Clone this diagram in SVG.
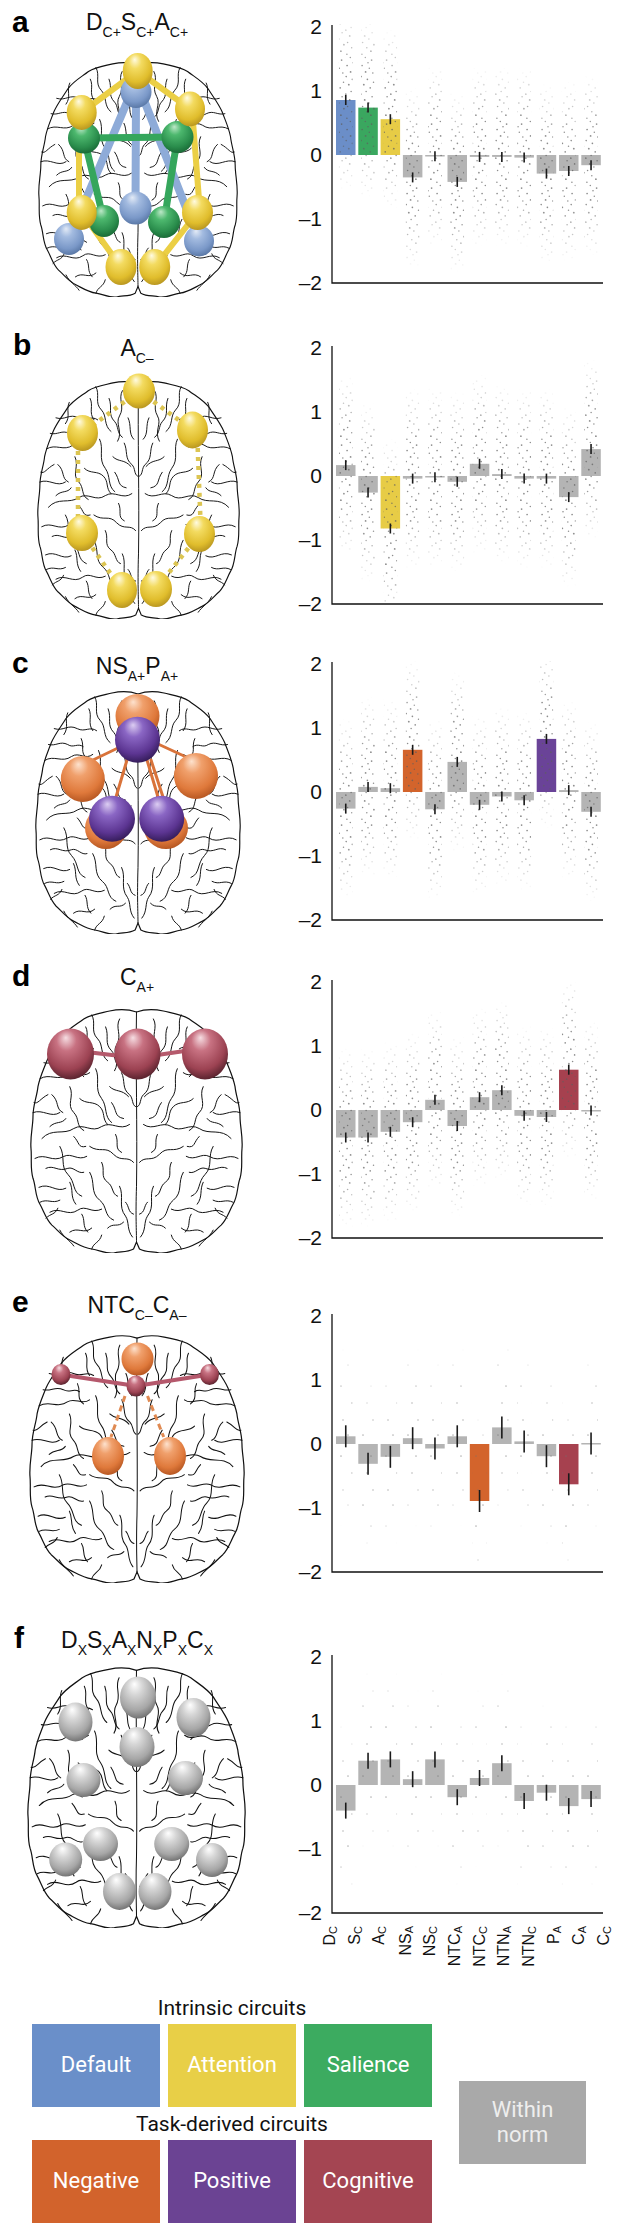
<svg xmlns="http://www.w3.org/2000/svg" width="629" height="2231" viewBox="0 0 629 2231">
<defs>
<style>
.plab{font-family:"Liberation Sans",Arial,sans-serif;font-weight:bold;font-size:30px;fill:#000}
.ttl{font-family:"Liberation Sans",Arial,sans-serif;font-size:23px;fill:#111;text-anchor:middle}
.tick{font-family:"Liberation Sans",Arial,sans-serif;font-size:21px;fill:#111;text-anchor:end}
.ax{fill:none;stroke:#111;stroke-width:1.3}
.g{fill:#b4b4b4}
.cb{fill:#6b8ec8}.cg{fill:#3aa75f}.cy{fill:#e7cc46}.co{fill:#d3642c}.cp{fill:#6a4398}.cr{fill:#a6414f}
.er{stroke:#1a1a1a;stroke-width:1.6}
.dc{fill:url(#dp)}
.dq{fill:url(#dq)}
.xl{font-family:"Liberation Sans",Arial,sans-serif;font-size:16px;fill:#111;text-anchor:end}
.leg{font-family:Roboto,"Liberation Sans",Arial,sans-serif;font-size:21px;fill:#111;text-anchor:middle}
.bx{font-family:Roboto,"Liberation Sans",Arial,sans-serif;font-size:22px;fill:#fff;text-anchor:middle}
.bo{fill:none;stroke:#111;stroke-width:1;stroke-linecap:round}
.sy{fill:url(#gy)}.sb{fill:url(#gb)}.sg{fill:url(#gg)}.so{fill:url(#go)}.sp{fill:url(#gp)}.sr{fill:url(#gr)}.sx{fill:url(#gx)}
</style>
<radialGradient id="gy" cx=".45" cy=".35" r=".7" fx=".4" fy=".18"><stop offset="0" stop-color="#fffbe2"/><stop offset=".3" stop-color="#f3db60"/><stop offset=".72" stop-color="#e0bd2c"/><stop offset="1" stop-color="#b08e1e"/></radialGradient>
<radialGradient id="gb" cx=".45" cy=".35" r=".7" fx=".4" fy=".18"><stop offset="0" stop-color="#e2eaf6"/><stop offset=".3" stop-color="#a3bbe0"/><stop offset=".72" stop-color="#7a98c8"/><stop offset="1" stop-color="#52709e"/></radialGradient>
<radialGradient id="gg" cx=".45" cy=".35" r=".7" fx=".4" fy=".18"><stop offset="0" stop-color="#bde8c8"/><stop offset=".3" stop-color="#4db86e"/><stop offset=".72" stop-color="#2a8d4c"/><stop offset="1" stop-color="#166332"/></radialGradient>
<radialGradient id="go" cx=".45" cy=".35" r=".7" fx=".4" fy=".18"><stop offset="0" stop-color="#fde2ce"/><stop offset=".3" stop-color="#f0a06c"/><stop offset=".72" stop-color="#df793b"/><stop offset="1" stop-color="#ae501d"/></radialGradient>
<radialGradient id="gp" cx=".45" cy=".35" r=".7" fx=".4" fy=".18"><stop offset="0" stop-color="#dccdf2"/><stop offset=".3" stop-color="#8a66c4"/><stop offset=".72" stop-color="#5c3592"/><stop offset="1" stop-color="#2c174e"/></radialGradient>
<radialGradient id="gr" cx=".45" cy=".35" r=".7" fx=".4" fy=".18"><stop offset="0" stop-color="#f6dde2"/><stop offset=".3" stop-color="#c87282"/><stop offset=".72" stop-color="#9c4252"/><stop offset="1" stop-color="#4a1c26"/></radialGradient>
<radialGradient id="gx" cx=".45" cy=".35" r=".7" fx=".4" fy=".18"><stop offset="0" stop-color="#ffffff"/><stop offset=".3" stop-color="#d6d6d6"/><stop offset=".72" stop-color="#a6a6a6"/><stop offset="1" stop-color="#686868"/></radialGradient>
<pattern id="dp" width="15" height="64" patternUnits="userSpaceOnUse"><g fill="#5e5e5e"><circle cx="2.1" cy="1.5" r=".85"/><circle cx="9.3" cy="4.2" r=".75"/><circle cx="5.6" cy="7.9" r=".9"/><circle cx="12.8" cy="9.1" r=".75"/><circle cx="1.2" cy="12.6" r=".8"/><circle cx="7.4" cy="15.3" r=".85"/><circle cx="13.5" cy="18.2" r=".75"/><circle cx="3.8" cy="20.7" r=".9"/><circle cx="10.2" cy="23.9" r=".8"/><circle cx="6.1" cy="27.4" r=".75"/><circle cx="0.8" cy="30.2" r=".85"/><circle cx="12.1" cy="32.8" r=".8"/><circle cx="4.7" cy="35.9" r=".9"/><circle cx="8.9" cy="39.1" r=".75"/><circle cx="2.6" cy="42.5" r=".8"/><circle cx="13.9" cy="44.7" r=".85"/><circle cx="6.8" cy="47.8" r=".75"/><circle cx="10.9" cy="51.2" r=".9"/><circle cx="1.9" cy="54.3" r=".8"/><circle cx="5.3" cy="57.6" r=".75"/><circle cx="11.6" cy="60.1" r=".85"/><circle cx="8" cy="62.8" r=".8"/></g></pattern>
<pattern id="dq" width="15" height="70" patternUnits="userSpaceOnUse"><g fill="#707070"><circle cx="3" cy="6" r=".85"/><circle cx="11" cy="27" r=".85"/><circle cx="7" cy="44" r=".8"/><circle cx="13" cy="61" r=".8"/></g></pattern>
<linearGradient id="fg" x1="0" y1="0" x2="0" y2="1"><stop offset="0" stop-color="#000"/><stop offset=".3" stop-color="#fff"/><stop offset=".7" stop-color="#fff"/><stop offset="1" stop-color="#000"/></linearGradient>
<mask id="fade" maskContentUnits="objectBoundingBox"><rect width="1" height="1" fill="url(#fg)"/></mask>
<clipPath id="cc"><rect x="333" y="24" width="272" height="258"/></clipPath>
<symbol id="brain" viewBox="0 0 214 247" preserveAspectRatio="none">
<path fill="#fff" stroke="#111" stroke-width="1.2" d="M107,236 L104,243 C97,247 90,245 84,247 C76,248 70,244 62,243 C54,242 48,238 40,234 C32,230 28,224 22,219 C16,213 14,205 10,198 C5,190 6,180 3,172 C0,162 2,152 1,142 C0,130 3,120 3,110 C3,98 7,90 8,80 C10,70 14,62 17,54 C21,45 27,38 32,30 C38,22 46,18 54,12 C62,7 72,6 80,4 C90,2 98,2 107,5 C116,2 124,2 134,4 C142,6 152,7 160,12 C168,18 176,22 182,30 C187,38 193,45 197,54 C200,62 204,70 206,80 C207,90 211,98 211,110 C211,120 214,130 213,142 C212,152 214,162 211,172 C208,180 209,190 204,198 C200,205 198,213 192,219 C186,224 182,230 174,234 C166,238 160,242 152,243 C144,244 138,248 130,247 C124,245 117,247 110,243 Z"/>
<path class="bo" d="M107,5 C106,60 108,120 107,180 C106,210 107,225 107,236"/>
<g id="lh" class="bo">
<path d="M20,40 C30,43 34,35 44,40 C52,44 57,37 64,42"/>
<path d="M62,8 C67,16 60,24 68,32 C74,38 70,48 78,54"/>
<path d="M90,12 C85,21 93,28 87,38 C82,46 91,54 85,64"/>
<path d="M34,24 C30,32 36,38 30,46"/>
<path d="M10,72 C20,66 28,75 38,68 C46,63 52,72 60,66"/>
<path d="M40,80 C45,90 36,98 44,106 C50,112 46,120 54,124"/>
<path d="M66,62 C71,72 64,82 72,92 C78,100 74,110 82,116"/>
<path d="M3,106 C13,102 21,112 30,106"/>
<path d="M12,132 C22,121 34,129 44,122 C54,116 62,127 72,120 C82,114 90,125 100,118"/>
<path d="M5,152 C16,146 22,157 34,150 C42,146 48,155 57,150"/>
<path d="M30,140 C36,150 30,160 38,168 C46,176 42,186 52,190"/>
<path d="M60,140 C70,147 76,139 84,148 C92,156 98,149 104,156"/>
<path d="M9,181 C20,176 26,187 36,182"/>
<path d="M60,166 C66,176 60,186 70,194 C78,200 74,210 84,214"/>
<path d="M20,206 C30,200 38,211 48,204 C56,198 62,208 72,203"/>
<path d="M90,180 C95,190 88,200 96,210 C100,216 97,224 103,231"/>
<path d="M40,226 C48,220 54,229 62,222"/>
<path d="M80,80 C86,86 92,82 99,90"/>
<path d="M22,88 C30,95 25,102 33,106"/>
<path d="M16,212 C21,207 25,209 28,202"/>
<path d="M62,243 C64,236 70,237 72,229"/>
<path d="M82,96 C88,104 84,110 94,112"/>
<path d="M48,50 C52,58 46,64 54,70"/>
<path d="M14,56 C22,58 26,52 34,56 C40,60 44,54 50,58"/>
<path d="M56,20 C60,28 54,34 60,42"/>
<path d="M76,20 C80,30 74,36 82,44 C86,48 84,56 90,60"/>
<path d="M96,40 C100,48 96,56 102,62"/>
<path d="M18,88 C10,92 8,98 4,96"/>
<path d="M50,92 C56,98 64,94 70,100 C76,106 72,112 78,118"/>
<path d="M92,66 C96,74 92,82 100,88 C104,92 102,98 106,100"/>
<path d="M20,120 C26,114 32,118 36,112"/>
<path d="M44,130 C50,136 48,142 56,140"/>
<path d="M86,128 C90,136 84,142 92,146"/>
<path d="M16,162 C24,158 28,166 38,162 C44,160 48,168 54,166"/>
<path d="M72,156 C76,164 70,170 78,176 C84,180 82,188 88,190"/>
<path d="M40,176 C44,184 40,190 46,198"/>
<path d="M10,196 C18,192 22,198 30,194"/>
<path d="M78,222 C84,216 88,222 94,216"/>
<path d="M30,224 C34,232 40,234 44,240"/>
<path d="M96,196 C100,200 98,206 104,208"/>
<path d="M52,208 C56,214 52,220 58,226"/>
</g>
<use href="#lh" transform="translate(214,0) scale(-1,1)"/>
</symbol>
</defs>
<rect width="629" height="2231" fill="#fff"/>

<!-- PANEL A -->
<g id="panel-a">
<text class="plab" x="12" y="32">a</text>
<text class="ttl" x="137" y="30">D<tspan font-size="14" dy="7">C+</tspan><tspan dy="-7">S</tspan><tspan font-size="14" dy="7">C+</tspan><tspan dy="-7">A</tspan><tspan font-size="14" dy="7">C+</tspan></text>
<use href="#brain" x="38" y="60" width="200" height="237"/>
<g id="a-connectors" stroke-linecap="round">
<g stroke="#8eabd8" stroke-width="8"><line x1="130" y1="95" x2="69" y2="239"/><line x1="136" y1="95" x2="135.5" y2="208"/><line x1="142" y1="95" x2="199" y2="241"/></g>
<g stroke="#ebcf45" stroke-width="6"><line x1="137.7" y1="71" x2="81.7" y2="112.5"/><line x1="137.7" y1="71" x2="190" y2="109"/><line x1="79" y1="112.5" x2="79" y2="212.5"/><line x1="192" y1="109" x2="200" y2="212.5"/><line x1="81.7" y1="212.5" x2="121" y2="267"/><line x1="197.5" y1="212.5" x2="154.7" y2="267"/></g>
<g stroke="#35a65c" stroke-width="7"><line x1="84" y1="138" x2="177.5" y2="137"/><line x1="84" y1="138" x2="104" y2="221"/><line x1="177.5" y1="137" x2="164" y2="222"/></g>
</g>
<g id="a-nodes">
<g id="a-d1"><ellipse class="sb" cx="136" cy="92" rx="15.5" ry="16"/></g>
<g id="a-d2"><ellipse class="sb" cx="135.5" cy="208" rx="16" ry="16.5"/></g>
<g id="a-d3"><ellipse class="sb" cx="69" cy="239" rx="15" ry="16"/></g>
<g id="a-d4"><ellipse class="sb" cx="199" cy="241" rx="15" ry="15.5"/></g>
<g id="a-s1"><ellipse class="sg" cx="84" cy="138" rx="16" ry="15.5"/></g>
<g id="a-s2"><ellipse class="sg" cx="177.5" cy="137" rx="16" ry="16"/></g>
<g id="a-s3"><ellipse class="sg" cx="104" cy="221" rx="15" ry="16"/></g>
<g id="a-s4"><ellipse class="sg" cx="164" cy="222" rx="16" ry="16"/></g>
<g id="a-a1"><ellipse class="sy" cx="137.7" cy="71" rx="15" ry="18"/></g>
<g id="a-a2"><ellipse class="sy" cx="81.7" cy="112.5" rx="15" ry="17.5"/></g>
<g id="a-a3"><ellipse class="sy" cx="190" cy="109" rx="15" ry="17.5"/></g>
<g id="a-a4"><ellipse class="sy" cx="81.7" cy="212.5" rx="15" ry="17.5"/></g>
<g id="a-a5"><ellipse class="sy" cx="197.5" cy="212.5" rx="15.5" ry="17.5"/></g>
<g id="a-a6"><ellipse class="sy" cx="121" cy="267" rx="15.5" ry="18"/></g>
<g id="a-a7"><ellipse class="sy" cx="154.7" cy="267" rx="15.5" ry="18"/></g>
</g>
<g id="a-chart">
<rect class="cb" x="336" y="100" width="19.5" height="55"/>
<rect class="cg" x="358.3" y="107.6" width="19.5" height="47.4"/>
<rect class="cy" x="380.6" y="119.2" width="19.5" height="35.8"/>
<rect class="g" x="402.9" y="155" width="19.5" height="22.4"/>
<rect class="g" x="425.2" y="155" width="19.5" height="1.5"/>
<rect class="g" x="447.5" y="155" width="19.5" height="26.9"/>
<rect class="g" x="469.8" y="155" width="19.5" height="1.9"/>
<rect class="g" x="492.1" y="155" width="19.5" height="1.9"/>
<rect class="g" x="514.4" y="155" width="19.5" height="2.6"/>
<rect class="g" x="536.7" y="155" width="19.5" height="18.6"/>
<rect class="g" x="559" y="155" width="19.5" height="16"/>
<rect class="g" x="581.3" y="155" width="19.5" height="10.2"/>
<g clip-path="url(#cc)" opacity=".7">
<rect class="dc" mask="url(#fade)" x="338.75" y="10" width="14" height="180"/>
<rect class="dc" mask="url(#fade)" x="361.05" y="17.6" width="14" height="180"/>
<rect class="dc" mask="url(#fade)" x="383.35" y="29.2" width="14" height="180"/>
<rect class="dc" mask="url(#fade)" x="405.65" y="87.4" width="14" height="180"/>
<rect class="dc" mask="url(#fade)" x="427.95" y="66.3" width="14" height="180"/>
<rect class="dc" mask="url(#fade)" x="450.25" y="91.9" width="14" height="180"/>
<rect class="dc" mask="url(#fade)" x="472.55" y="66.9" width="14" height="180"/>
<rect class="dc" mask="url(#fade)" x="494.85" y="66.9" width="14" height="180"/>
<rect class="dc" mask="url(#fade)" x="517.15" y="67.6" width="14" height="180"/>
<rect class="dc" mask="url(#fade)" x="539.45" y="83.6" width="14" height="180"/>
<rect class="dc" mask="url(#fade)" x="561.75" y="81" width="14" height="180"/>
<rect class="dc" mask="url(#fade)" x="584.05" y="75.2" width="14" height="180"/>
</g>
<g class="er">
<line x1="345.75" y1="95" x2="345.75" y2="105"/><line x1="368.05" y1="102.6" x2="368.05" y2="112.6"/><line x1="390.35" y1="114.2" x2="390.35" y2="124.2"/><line x1="412.65" y1="172.4" x2="412.65" y2="182.4"/><line x1="434.95" y1="151.3" x2="434.95" y2="161.3"/><line x1="457.25" y1="176.9" x2="457.25" y2="186.9"/><line x1="479.55" y1="151.9" x2="479.55" y2="161.9"/><line x1="501.85" y1="151.9" x2="501.85" y2="161.9"/><line x1="524.15" y1="152.6" x2="524.15" y2="162.6"/><line x1="546.45" y1="168.6" x2="546.45" y2="178.6"/><line x1="568.75" y1="166" x2="568.75" y2="176"/><line x1="591.05" y1="160.2" x2="591.05" y2="170.2"/>
</g>
<path class="ax" d="M332,25 V283 H603"/>
<text class="tick" x="322" y="34">2</text><text class="tick" x="322" y="98">1</text><text class="tick" x="322" y="162">0</text><text class="tick" x="322" y="226">–1</text><text class="tick" x="322" y="290">–2</text>
</g>
</g>

<!-- PANEL B -->
<g id="panel-b">
<text class="plab" x="13" y="355">b</text>
<text class="ttl" x="137" y="356">A<tspan font-size="14" dy="7">C–</tspan></text>
<use href="#brain" x="37" y="379" width="203" height="240"/>
<g id="b-connectors" stroke="#dcc552" stroke-width="4.5" stroke-dasharray="4 5">
<line x1="139" y1="391" x2="82.5" y2="433"/><line x1="139" y1="391" x2="192.5" y2="430"/><line x1="78" y1="433" x2="78" y2="533"/><line x1="197" y1="430" x2="201" y2="534"/><line x1="82" y1="533" x2="122" y2="590"/><line x1="199.5" y1="534" x2="156" y2="589"/>
</g>
<g id="b-nodes">
<g id="b-a1"><ellipse class="sy" cx="139" cy="391" rx="16" ry="17.5"/></g>
<g id="b-a2"><ellipse class="sy" cx="82.5" cy="433" rx="15.5" ry="18"/></g>
<g id="b-a3"><ellipse class="sy" cx="192.5" cy="430" rx="15.5" ry="18.5"/></g>
<g id="b-a4"><ellipse class="sy" cx="82" cy="533" rx="16" ry="18"/></g>
<g id="b-a5"><ellipse class="sy" cx="199.5" cy="534" rx="15.5" ry="18"/></g>
<g id="b-a6"><ellipse class="sy" cx="122" cy="590" rx="15" ry="18"/></g>
<g id="b-a7"><ellipse class="sy" cx="156" cy="589" rx="16" ry="18"/></g>
</g>
<g id="b-chart" transform="translate(0,321)">
<rect class="g" x="336" y="144.1" width="19.5" height="10.9"/>
<rect class="g" x="358.3" y="155" width="19.5" height="16.6"/>
<rect class="cy" x="380.6" y="155" width="19.5" height="52.5"/>
<rect class="g" x="402.9" y="155" width="19.5" height="2.6"/>
<rect class="g" x="425.2" y="155" width="19.5" height="1.5"/>
<rect class="g" x="447.5" y="155" width="19.5" height="5.8"/>
<rect class="g" x="469.8" y="142.8" width="19.5" height="12.2"/>
<rect class="g" x="492.1" y="153.1" width="19.5" height="1.9"/>
<rect class="g" x="514.4" y="155" width="19.5" height="2.6"/>
<rect class="g" x="536.7" y="155" width="19.5" height="2.6"/>
<rect class="g" x="559" y="155" width="19.5" height="21.1"/>
<rect class="g" x="581.3" y="128.1" width="19.5" height="26.9"/>
<g clip-path="url(#cc)" opacity=".7">
<rect class="dc" mask="url(#fade)" x="338.75" y="54.1" width="14" height="180"/>
<rect class="dc" mask="url(#fade)" x="361.05" y="81.6" width="14" height="180"/>
<rect class="dc" mask="url(#fade)" x="383.35" y="117.5" width="14" height="180"/>
<rect class="dc" mask="url(#fade)" x="405.65" y="67.6" width="14" height="180"/>
<rect class="dc" mask="url(#fade)" x="427.95" y="66.3" width="14" height="180"/>
<rect class="dc" mask="url(#fade)" x="450.25" y="70.8" width="14" height="180"/>
<rect class="dc" mask="url(#fade)" x="472.55" y="52.8" width="14" height="180"/>
<rect class="dc" mask="url(#fade)" x="494.85" y="63.1" width="14" height="180"/>
<rect class="dc" mask="url(#fade)" x="517.15" y="67.6" width="14" height="180"/>
<rect class="dc" mask="url(#fade)" x="539.45" y="67.6" width="14" height="180"/>
<rect class="dc" mask="url(#fade)" x="561.75" y="86.1" width="14" height="180"/>
<rect class="dc" mask="url(#fade)" x="584.05" y="38.1" width="14" height="180"/>
</g>
<g class="er">
<line x1="345.75" y1="139.1" x2="345.75" y2="149.1"/><line x1="368.05" y1="166.6" x2="368.05" y2="176.6"/><line x1="390.35" y1="202.5" x2="390.35" y2="212.5"/><line x1="412.65" y1="152.6" x2="412.65" y2="162.6"/><line x1="434.95" y1="151.3" x2="434.95" y2="161.3"/><line x1="457.25" y1="155.8" x2="457.25" y2="165.8"/><line x1="479.55" y1="137.8" x2="479.55" y2="147.8"/><line x1="501.85" y1="148.1" x2="501.85" y2="158.1"/><line x1="524.15" y1="152.6" x2="524.15" y2="162.6"/><line x1="546.45" y1="152.6" x2="546.45" y2="162.6"/><line x1="568.75" y1="171.1" x2="568.75" y2="181.1"/><line x1="591.05" y1="123.1" x2="591.05" y2="133.1"/>
</g>
<path class="ax" d="M332,25 V283 H603"/>
<text class="tick" x="322" y="34">2</text><text class="tick" x="322" y="98">1</text><text class="tick" x="322" y="162">0</text><text class="tick" x="322" y="226">–1</text><text class="tick" x="322" y="290">–2</text>
</g>
</g>

<!-- PANEL C -->
<g id="panel-c">
<text class="plab" x="12" y="673">c</text>
<text class="ttl" x="137" y="674">NS<tspan font-size="14" dy="7">A+</tspan><tspan dy="-7">P</tspan><tspan font-size="14" dy="7">A+</tspan></text>
<use href="#brain" x="35" y="689" width="206" height="245"/>
<g id="c-connectors" stroke="#d9733a" stroke-width="3" stroke-linecap="round">
<line x1="120" y1="747" x2="93" y2="760"/><line x1="158" y1="744" x2="184" y2="756"/><line x1="127" y1="760" x2="116" y2="797"/><line x1="147" y1="760" x2="158" y2="797"/><line x1="151" y1="760" x2="163" y2="797"/>
</g>
<g id="c-nodes">
<g id="c-n1"><ellipse class="so" cx="137.5" cy="716" rx="22" ry="22"/></g>
<g id="c-n2"><ellipse class="so" cx="82.8" cy="779" rx="22" ry="23"/></g>
<g id="c-n3"><ellipse class="so" cx="196" cy="776" rx="22" ry="23"/></g>
<g id="c-n4"><ellipse class="so" cx="106" cy="828" rx="21" ry="21"/></g>
<g id="c-n5"><ellipse class="so" cx="166" cy="828" rx="22" ry="21"/></g>
<g id="c-p1"><ellipse class="sp" cx="137.5" cy="739.7" rx="22.5" ry="23"/></g>
<g id="c-p2"><ellipse class="sp" cx="112" cy="818.8" rx="23" ry="23"/></g>
<g id="c-p3"><ellipse class="sp" cx="161.7" cy="818.8" rx="22.5" ry="23"/></g>
</g>
<g id="c-chart" transform="translate(0,637)">
<rect class="g" x="336" y="155" width="19.5" height="16.6"/>
<rect class="g" x="358.3" y="149.9" width="19.5" height="5.1"/>
<rect class="g" x="380.6" y="151.2" width="19.5" height="3.8"/>
<rect class="co" x="402.9" y="112.8" width="19.5" height="42.2"/>
<rect class="g" x="425.2" y="155" width="19.5" height="17.3"/>
<rect class="g" x="447.5" y="124.9" width="19.5" height="30.1"/>
<rect class="g" x="469.8" y="155" width="19.5" height="12.8"/>
<rect class="g" x="492.1" y="155" width="19.5" height="4.5"/>
<rect class="g" x="514.4" y="155" width="19.5" height="8.3"/>
<rect class="cp" x="536.7" y="101.9" width="19.5" height="53.1"/>
<rect class="g" x="559" y="153.1" width="19.5" height="1.9"/>
<rect class="g" x="581.3" y="155" width="19.5" height="19.8"/>
<g clip-path="url(#cc)" opacity=".7">
<rect class="dc" mask="url(#fade)" x="338.75" y="81.6" width="14" height="180"/>
<rect class="dc" mask="url(#fade)" x="361.05" y="59.9" width="14" height="180"/>
<rect class="dc" mask="url(#fade)" x="383.35" y="61.2" width="14" height="180"/>
<rect class="dc" mask="url(#fade)" x="405.65" y="22.8" width="14" height="180"/>
<rect class="dc" mask="url(#fade)" x="427.95" y="82.3" width="14" height="180"/>
<rect class="dc" mask="url(#fade)" x="450.25" y="34.9" width="14" height="180"/>
<rect class="dc" mask="url(#fade)" x="472.55" y="77.8" width="14" height="180"/>
<rect class="dc" mask="url(#fade)" x="494.85" y="69.5" width="14" height="180"/>
<rect class="dc" mask="url(#fade)" x="517.15" y="73.3" width="14" height="180"/>
<rect class="dc" mask="url(#fade)" x="539.45" y="11.9" width="14" height="180"/>
<rect class="dc" mask="url(#fade)" x="561.75" y="63.1" width="14" height="180"/>
<rect class="dc" mask="url(#fade)" x="584.05" y="84.8" width="14" height="180"/>
</g>
<g class="er">
<line x1="345.75" y1="166.6" x2="345.75" y2="176.6"/><line x1="368.05" y1="144.9" x2="368.05" y2="154.9"/><line x1="390.35" y1="146.2" x2="390.35" y2="156.2"/><line x1="412.65" y1="107.8" x2="412.65" y2="117.8"/><line x1="434.95" y1="167.3" x2="434.95" y2="177.3"/><line x1="457.25" y1="119.9" x2="457.25" y2="129.9"/><line x1="479.55" y1="162.8" x2="479.55" y2="172.8"/><line x1="501.85" y1="154.5" x2="501.85" y2="164.5"/><line x1="524.15" y1="158.3" x2="524.15" y2="168.3"/><line x1="546.45" y1="96.9" x2="546.45" y2="106.9"/><line x1="568.75" y1="148.1" x2="568.75" y2="158.1"/><line x1="591.05" y1="169.8" x2="591.05" y2="179.8"/>
</g>
<path class="ax" d="M332,25 V283 H603"/>
<text class="tick" x="322" y="34">2</text><text class="tick" x="322" y="98">1</text><text class="tick" x="322" y="162">0</text><text class="tick" x="322" y="226">–1</text><text class="tick" x="322" y="290">–2</text>
</g>
</g>

<!-- PANEL D -->
<g id="panel-d">
<text class="plab" x="12" y="986">d</text>
<text class="ttl" x="137" y="985">C<tspan font-size="14" dy="7">A+</tspan></text>
<use href="#brain" x="30" y="1007" width="213" height="246"/>
<g id="d-connectors" stroke="#b55a6c" stroke-width="4" stroke-linecap="round">
<line x1="70" y1="1050" x2="137" y2="1058"/><line x1="137" y1="1058" x2="205" y2="1048"/>
</g>
<g id="d-nodes">
<g id="d-c1"><ellipse class="sr" cx="70.5" cy="1054" rx="23.5" ry="25.5"/></g>
<g id="d-c2"><ellipse class="sr" cx="137.5" cy="1054" rx="23" ry="25.5"/></g>
<g id="d-c3"><ellipse class="sr" cx="205" cy="1054" rx="23" ry="25.5"/></g>
</g>
<g id="d-chart" transform="translate(0,955)">
<rect class="g" x="336" y="155" width="19.5" height="27.5"/>
<rect class="g" x="358.3" y="155" width="19.5" height="27.5"/>
<rect class="g" x="380.6" y="155" width="19.5" height="21.8"/>
<rect class="g" x="402.9" y="155" width="19.5" height="12.2"/>
<rect class="g" x="425.2" y="144.8" width="19.5" height="10.2"/>
<rect class="g" x="447.5" y="155" width="19.5" height="16"/>
<rect class="g" x="469.8" y="142.2" width="19.5" height="12.8"/>
<rect class="g" x="492.1" y="135.2" width="19.5" height="19.8"/>
<rect class="g" x="514.4" y="155" width="19.5" height="5.8"/>
<rect class="g" x="536.7" y="155" width="19.5" height="7"/>
<rect class="cr" x="559" y="114.7" width="19.5" height="40.3"/>
<rect class="g" x="581.3" y="155" width="19.5" height="1.5"/>
<g clip-path="url(#cc)" opacity=".7">
<rect class="dc" mask="url(#fade)" x="338.75" y="92.5" width="14" height="180"/>
<rect class="dc" mask="url(#fade)" x="361.05" y="92.5" width="14" height="180"/>
<rect class="dc" mask="url(#fade)" x="383.35" y="86.8" width="14" height="180"/>
<rect class="dc" mask="url(#fade)" x="405.65" y="77.2" width="14" height="180"/>
<rect class="dc" mask="url(#fade)" x="427.95" y="54.8" width="14" height="180"/>
<rect class="dc" mask="url(#fade)" x="450.25" y="81" width="14" height="180"/>
<rect class="dc" mask="url(#fade)" x="472.55" y="52.2" width="14" height="180"/>
<rect class="dc" mask="url(#fade)" x="494.85" y="45.2" width="14" height="180"/>
<rect class="dc" mask="url(#fade)" x="517.15" y="70.8" width="14" height="180"/>
<rect class="dc" mask="url(#fade)" x="539.45" y="72" width="14" height="180"/>
<rect class="dc" mask="url(#fade)" x="561.75" y="24.7" width="14" height="180"/>
<rect class="dc" mask="url(#fade)" x="584.05" y="65.6" width="14" height="180"/>
</g>
<g class="er">
<line x1="345.75" y1="177.5" x2="345.75" y2="187.5"/><line x1="368.05" y1="177.5" x2="368.05" y2="187.5"/><line x1="390.35" y1="171.8" x2="390.35" y2="181.8"/><line x1="412.65" y1="162.2" x2="412.65" y2="172.2"/><line x1="434.95" y1="139.8" x2="434.95" y2="149.8"/><line x1="457.25" y1="166" x2="457.25" y2="176"/><line x1="479.55" y1="137.2" x2="479.55" y2="147.2"/><line x1="501.85" y1="130.2" x2="501.85" y2="140.2"/><line x1="524.15" y1="155.8" x2="524.15" y2="165.8"/><line x1="546.45" y1="157" x2="546.45" y2="167"/><line x1="568.75" y1="109.7" x2="568.75" y2="119.7"/><line x1="591.05" y1="150.6" x2="591.05" y2="160.6"/>
</g>
<path class="ax" d="M332,25 V283 H603"/>
<text class="tick" x="322" y="34">2</text><text class="tick" x="322" y="98">1</text><text class="tick" x="322" y="162">0</text><text class="tick" x="322" y="226">–1</text><text class="tick" x="322" y="290">–2</text>
</g>
</g>

<!-- PANEL E -->
<g id="panel-e">
<text class="plab" x="12" y="1312">e</text>
<text class="ttl" x="137" y="1313">NTC<tspan font-size="14" dy="7">C–</tspan><tspan dy="-7">C</tspan><tspan font-size="14" dy="7">A–</tspan></text>
<use href="#brain" x="29" y="1333" width="216" height="250"/>
<g id="e-connectors" stroke-linecap="butt">
<g stroke="#e08a52" stroke-width="3" stroke-dasharray="6 4"><line x1="125" y1="1396" x2="111" y2="1437"/><line x1="147.5" y1="1396" x2="163.7" y2="1437"/></g>
<g stroke="#b5586c" stroke-width="4"><line x1="61" y1="1374.5" x2="136" y2="1386"/><line x1="136" y1="1386" x2="209.5" y2="1374.5"/></g>
</g>
<g id="e-nodes">
<g id="e-n1"><ellipse class="so" cx="137.5" cy="1359" rx="16" ry="16.5"/></g>
<g id="e-n2"><ellipse class="so" cx="108" cy="1456" rx="16" ry="19"/></g>
<g id="e-n3"><ellipse class="so" cx="170" cy="1456" rx="16" ry="19"/></g>
<g id="e-c1"><ellipse class="sr" cx="61" cy="1374.5" rx="9.5" ry="10.5"/></g>
<g id="e-c2"><ellipse class="sr" cx="136" cy="1386" rx="9.5" ry="10.5"/></g>
<g id="e-c3"><ellipse class="sr" cx="209.5" cy="1374.5" rx="9.5" ry="10.5"/></g>
</g>
<g id="e-chart" transform="translate(0,1289)">
<rect class="g" x="336" y="147.3" width="19.5" height="7.7"/>
<rect class="g" x="358.3" y="155" width="19.5" height="19.8"/>
<rect class="g" x="380.6" y="155" width="19.5" height="12.8"/>
<rect class="g" x="402.9" y="149.2" width="19.5" height="5.8"/>
<rect class="g" x="425.2" y="155" width="19.5" height="4.5"/>
<rect class="g" x="447.5" y="147.3" width="19.5" height="7.7"/>
<rect class="co" x="469.8" y="155" width="19.5" height="57"/>
<rect class="g" x="492.1" y="138.4" width="19.5" height="16.6"/>
<rect class="g" x="514.4" y="152.4" width="19.5" height="2.6"/>
<rect class="g" x="536.7" y="155" width="19.5" height="12.2"/>
<rect class="cr" x="559" y="155" width="19.5" height="40.3"/>
<rect class="g" x="581.3" y="154" width="19.5" height="1.5"/>
<g clip-path="url(#cc)" opacity=".5">
<rect class="dq" mask="url(#fade)" x="338.75" y="57.3" width="14" height="180"/>
<rect class="dq" mask="url(#fade)" x="361.05" y="84.8" width="14" height="180"/>
<rect class="dq" mask="url(#fade)" x="383.35" y="77.8" width="14" height="180"/>
<rect class="dq" mask="url(#fade)" x="405.65" y="59.2" width="14" height="180"/>
<rect class="dq" mask="url(#fade)" x="427.95" y="69.5" width="14" height="180"/>
<rect class="dq" mask="url(#fade)" x="450.25" y="57.3" width="14" height="180"/>
<rect class="dq" mask="url(#fade)" x="472.55" y="122" width="14" height="180"/>
<rect class="dq" mask="url(#fade)" x="494.85" y="48.4" width="14" height="180"/>
<rect class="dq" mask="url(#fade)" x="517.15" y="62.4" width="14" height="180"/>
<rect class="dq" mask="url(#fade)" x="539.45" y="77.2" width="14" height="180"/>
<rect class="dq" mask="url(#fade)" x="561.75" y="105.3" width="14" height="180"/>
<rect class="dq" mask="url(#fade)" x="584.05" y="64.4" width="14" height="180"/>
</g>
<g class="er">
<line x1="345.75" y1="136.3" x2="345.75" y2="158.3"/><line x1="368.05" y1="163.8" x2="368.05" y2="185.8"/><line x1="390.35" y1="156.8" x2="390.35" y2="178.8"/><line x1="412.65" y1="138.2" x2="412.65" y2="160.2"/><line x1="434.95" y1="148.5" x2="434.95" y2="170.5"/><line x1="457.25" y1="136.3" x2="457.25" y2="158.3"/><line x1="479.55" y1="201" x2="479.55" y2="223"/><line x1="501.85" y1="127.4" x2="501.85" y2="149.4"/><line x1="524.15" y1="141.4" x2="524.15" y2="163.4"/><line x1="546.45" y1="156.2" x2="546.45" y2="178.2"/><line x1="568.75" y1="184.3" x2="568.75" y2="206.3"/><line x1="591.05" y1="143.4" x2="591.05" y2="165.4"/>
</g>
<path class="ax" d="M332,25 V283 H603"/>
<text class="tick" x="322" y="34">2</text><text class="tick" x="322" y="98">1</text><text class="tick" x="322" y="162">0</text><text class="tick" x="322" y="226">–1</text><text class="tick" x="322" y="290">–2</text>
</g>
</g>

<!-- PANEL F -->
<g id="panel-f">
<text class="plab" x="14" y="1648">f</text>
<text class="ttl" x="137" y="1648">D<tspan font-size="14" dy="7">X</tspan><tspan dy="-7">S</tspan><tspan font-size="14" dy="7">X</tspan><tspan dy="-7">A</tspan><tspan font-size="14" dy="7">X</tspan><tspan dy="-7">N</tspan><tspan font-size="14" dy="7">X</tspan><tspan dy="-7">P</tspan><tspan font-size="14" dy="7">X</tspan><tspan dy="-7">C</tspan><tspan font-size="14" dy="7">X</tspan></text>
<use href="#brain" x="27" y="1665" width="219" height="263"/>
<g id="f-nodes">
<g id="f-x1"><ellipse class="sx" cx="138" cy="1697.5" rx="18" ry="21"/></g>
<g id="f-x2"><ellipse class="sx" cx="75.5" cy="1722" rx="17" ry="19.5"/></g>
<g id="f-x3"><ellipse class="sx" cx="193.5" cy="1717.5" rx="17" ry="19.5"/></g>
<g id="f-x4"><ellipse class="sx" cx="137" cy="1747" rx="17.5" ry="20"/></g>
<g id="f-x5"><ellipse class="sx" cx="83.5" cy="1780" rx="17" ry="17"/></g>
<g id="f-x6"><ellipse class="sx" cx="185.5" cy="1778" rx="17.5" ry="17"/></g>
<g id="f-x7"><ellipse class="sx" cx="100.5" cy="1844" rx="17.5" ry="17"/></g>
<g id="f-x8"><ellipse class="sx" cx="171.7" cy="1844" rx="17.5" ry="17"/></g>
<g id="f-x9"><ellipse class="sx" cx="65.7" cy="1859.5" rx="16.5" ry="17"/></g>
<g id="f-x10"><ellipse class="sx" cx="212" cy="1860" rx="16" ry="17"/></g>
<g id="f-x11"><ellipse class="sx" cx="119.5" cy="1891.5" rx="16.5" ry="18.5"/></g>
<g id="f-x12"><ellipse class="sx" cx="155" cy="1891.5" rx="16.5" ry="18.5"/></g>
</g>
<g id="f-chart" transform="translate(0,1630)">
<rect class="g" x="336" y="155" width="19.5" height="25.6"/>
<rect class="g" x="358.3" y="130.7" width="19.5" height="24.3"/>
<rect class="g" x="380.6" y="129.4" width="19.5" height="25.6"/>
<rect class="g" x="402.9" y="149.2" width="19.5" height="5.8"/>
<rect class="g" x="425.2" y="129.4" width="19.5" height="25.6"/>
<rect class="g" x="447.5" y="155" width="19.5" height="12.2"/>
<rect class="g" x="469.8" y="148" width="19.5" height="7"/>
<rect class="g" x="492.1" y="133.2" width="19.5" height="21.8"/>
<rect class="g" x="514.4" y="155" width="19.5" height="16"/>
<rect class="g" x="536.7" y="155" width="19.5" height="7.7"/>
<rect class="g" x="559" y="155" width="19.5" height="21.1"/>
<rect class="g" x="581.3" y="155" width="19.5" height="14.1"/>
<g clip-path="url(#cc)" opacity=".5">
<rect class="dq" mask="url(#fade)" x="338.75" y="90.6" width="14" height="180"/>
<rect class="dq" mask="url(#fade)" x="361.05" y="40.7" width="14" height="180"/>
<rect class="dq" mask="url(#fade)" x="383.35" y="39.4" width="14" height="180"/>
<rect class="dq" mask="url(#fade)" x="405.65" y="59.2" width="14" height="180"/>
<rect class="dq" mask="url(#fade)" x="427.95" y="39.4" width="14" height="180"/>
<rect class="dq" mask="url(#fade)" x="450.25" y="77.2" width="14" height="180"/>
<rect class="dq" mask="url(#fade)" x="472.55" y="58" width="14" height="180"/>
<rect class="dq" mask="url(#fade)" x="494.85" y="43.2" width="14" height="180"/>
<rect class="dq" mask="url(#fade)" x="517.15" y="81" width="14" height="180"/>
<rect class="dq" mask="url(#fade)" x="539.45" y="72.7" width="14" height="180"/>
<rect class="dq" mask="url(#fade)" x="561.75" y="86.1" width="14" height="180"/>
<rect class="dq" mask="url(#fade)" x="584.05" y="79.1" width="14" height="180"/>
</g>
<g class="er">
<line x1="345.75" y1="172.6" x2="345.75" y2="188.6"/><line x1="368.05" y1="122.7" x2="368.05" y2="138.7"/><line x1="390.35" y1="121.4" x2="390.35" y2="137.4"/><line x1="412.65" y1="141.2" x2="412.65" y2="157.2"/><line x1="434.95" y1="121.4" x2="434.95" y2="137.4"/><line x1="457.25" y1="159.2" x2="457.25" y2="175.2"/><line x1="479.55" y1="140" x2="479.55" y2="156"/><line x1="501.85" y1="125.2" x2="501.85" y2="141.2"/><line x1="524.15" y1="163" x2="524.15" y2="179"/><line x1="546.45" y1="154.7" x2="546.45" y2="170.7"/><line x1="568.75" y1="168.1" x2="568.75" y2="184.1"/><line x1="591.05" y1="161.1" x2="591.05" y2="177.1"/>
</g>
<path class="ax" d="M332,25 V283 H603"/>
<text class="tick" x="322" y="34">2</text><text class="tick" x="322" y="98">1</text><text class="tick" x="322" y="162">0</text><text class="tick" x="322" y="226">–1</text><text class="tick" x="322" y="290">–2</text>
</g>
<g id="x-labels">
<text class="xl" transform="translate(334.5,1926) rotate(-90)">D<tspan font-size="11" dy="2">C</tspan></text>
<text class="xl" transform="translate(359.5,1926) rotate(-90)">S<tspan font-size="11" dy="2">C</tspan></text>
<text class="xl" transform="translate(384.4,1926) rotate(-90)">A<tspan font-size="11" dy="2">C</tspan></text>
<text class="xl" transform="translate(410.5,1926) rotate(-90)">NS<tspan font-size="11" dy="2">A</tspan></text>
<text class="xl" transform="translate(435,1926) rotate(-90)">NS<tspan font-size="11" dy="2">C</tspan></text>
<text class="xl" transform="translate(460,1926) rotate(-90)">NTC<tspan font-size="11" dy="2">A</tspan></text>
<text class="xl" transform="translate(484.5,1926) rotate(-90)">NTC<tspan font-size="11" dy="2">C</tspan></text>
<text class="xl" transform="translate(509.2,1926) rotate(-90)">NTN<tspan font-size="11" dy="2">A</tspan></text>
<text class="xl" transform="translate(534.1,1926) rotate(-90)">NTN<tspan font-size="11" dy="2">C</tspan></text>
<text class="xl" transform="translate(559.1,1926) rotate(-90)">P<tspan font-size="11" dy="2">A</tspan></text>
<text class="xl" transform="translate(584,1926) rotate(-90)">C<tspan font-size="11" dy="2">A</tspan></text>
<text class="xl" transform="translate(609,1926) rotate(-90)">C<tspan font-size="11" dy="2">C</tspan></text>
</g>
</g>

<!-- LEGEND -->
<g id="legend">
<text class="leg" x="232" y="2015">Intrinsic circuits</text>
<g id="leg-default"><rect x="32" y="2024" width="128" height="83" fill="#6a8fc9"/><text class="bx" x="96" y="2072">Default</text></g>
<g id="leg-attention"><rect x="168" y="2024" width="128" height="83" fill="#e8cf47"/><text class="bx" x="232" y="2072">Attention</text></g>
<g id="leg-salience"><rect x="304" y="2024" width="128" height="83" fill="#3cab60"/><text class="bx" x="368" y="2072">Salience</text></g>
<text class="leg" x="232" y="2131">Task-derived circuits</text>
<g id="leg-negative"><rect x="32" y="2140" width="128" height="83" fill="#d2632c"/><text class="bx" x="96" y="2188">Negative</text></g>
<g id="leg-positive"><rect x="168" y="2140" width="128" height="83" fill="#6b4393"/><text class="bx" x="232" y="2188">Positive</text></g>
<g id="leg-cognitive"><rect x="304" y="2140" width="128" height="83" fill="#a44552"/><text class="bx" x="368" y="2188">Cognitive</text></g>
<g id="leg-norm"><rect x="459" y="2081" width="127" height="83" fill="#a9a9a9"/><text class="bx" x="522.5" y="2117" style="fill:#eeeeee">Within</text><text class="bx" x="522.5" y="2142" style="fill:#eeeeee">norm</text></g>
</g>
</svg>
